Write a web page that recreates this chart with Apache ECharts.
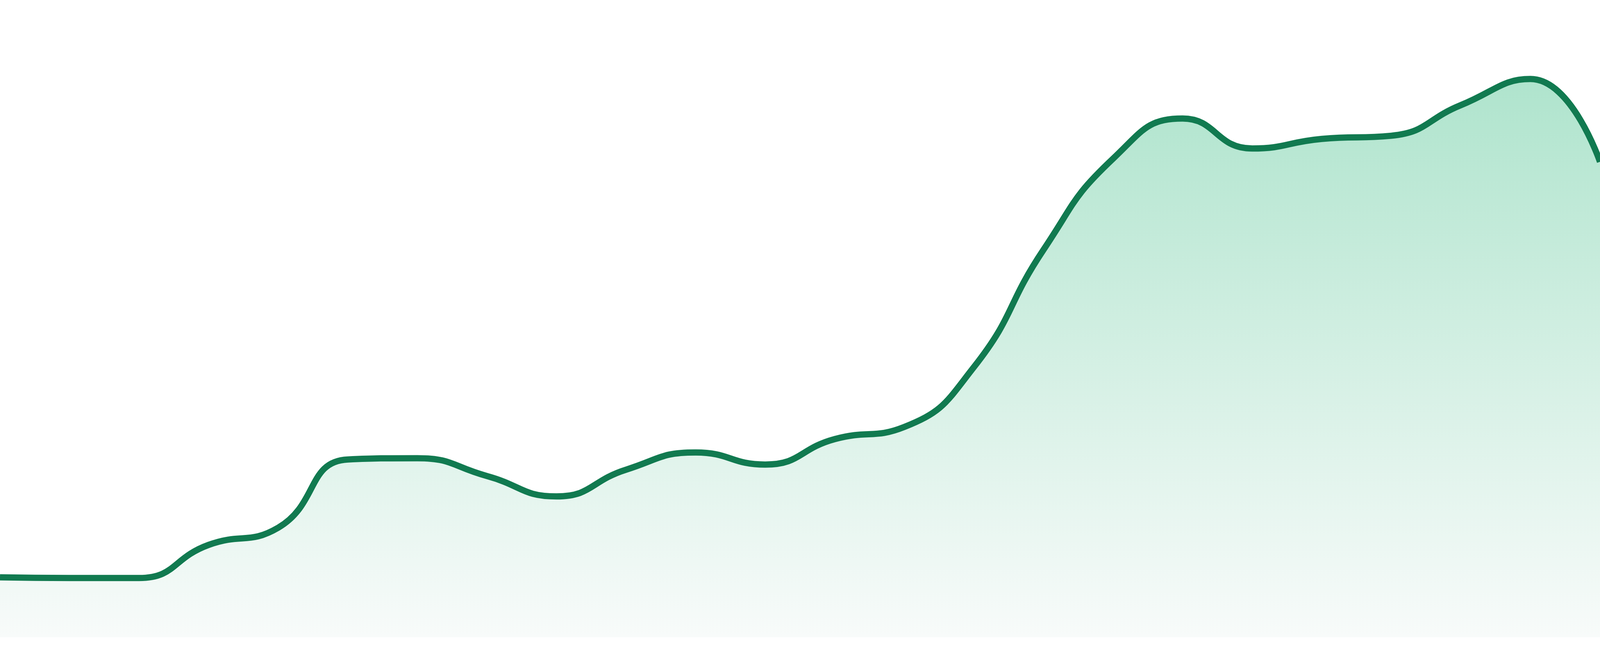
<!DOCTYPE html>
<html style="height: 100%">

<head>
    <meta charset="utf-8">
    <title>Area Chart</title>
</head>

<body style="height: 100%; margin: 0; background: #ffffff">
    <div id="container" style="height: 100%"></div>
    <script src="https://cdn.jsdelivr.net/npm/echarts@6/dist/echarts.min.js"></script>
    <script type="text/javascript">
        // data (share of chart height, 0-100)
        var categories = ['1', '2', '3', '4', '5', '6', '7', '8', '9', '10', '11', '12',
            '13', '14', '15', '16', '17', '18', '19', '20', '21', '22', '23', '24'];
        var values = [9.4, 9.3, 9.3, 14.5, 17.2, 27.9, 28.1, 25.3, 22.1, 26.3, 29.0, 27.1,
            31.1, 33.0, 42.4, 60.8, 75.1, 81.4, 76.7, 78.2, 78.7, 83.5, 87.6, 74.6];

        var myChart = echarts.init(document.getElementById('container'));

        var option = {
            animation: false,
            grid: {
                left: 0,
                right: 0,
                top: 0,
                bottom: 48
            },
            xAxis: {
                type: 'category',
                boundaryGap: false,
                data: categories,
                show: false
            },
            yAxis: {
                type: 'value',
                min: 0,
                max: 100,
                show: false
            },
            series: [{
                type: 'line',
                data: values,
                smooth: true,
                showSymbol: false,
                lineStyle: {
                    width: 16,
                    color: '#117a50'
                },
                areaStyle: {
                    opacity: 1,
                    color: new echarts.graphic.LinearGradient(0, 0, 0, 1, [
                        { offset: 0, color: '#afe4cd' },
                        { offset: 1, color: '#f8fbfa' }
                    ])
                }
            }]
        };
        myChart.setOption(option);
    </script>
</body>

</html>
